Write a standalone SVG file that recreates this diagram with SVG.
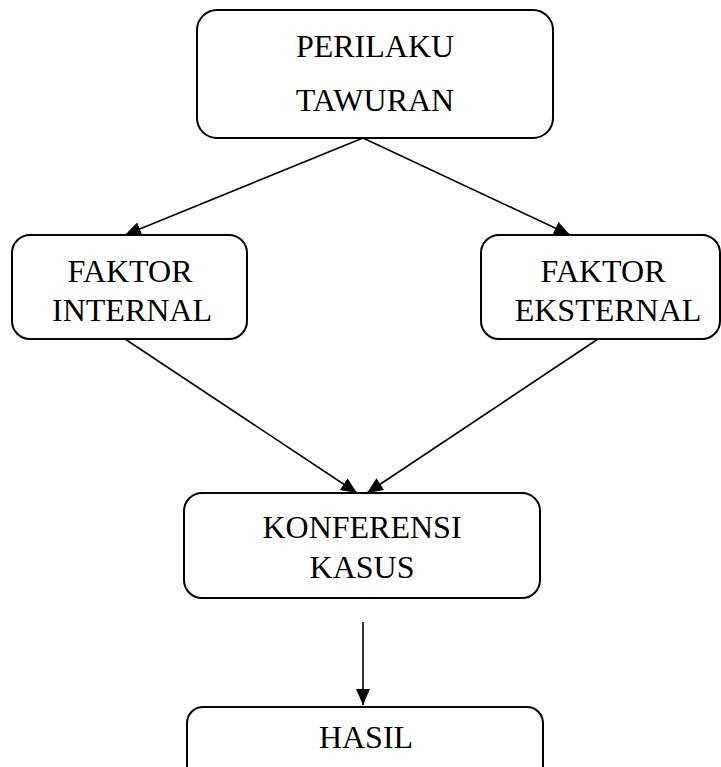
<svg xmlns="http://www.w3.org/2000/svg" width="721" height="767" viewBox="0 0 721 767">
<defs>
<style>
.box{fill:#fff;stroke:#000;stroke-width:2}
.t{font-family:"Liberation Serif","Times New Roman",serif;font-size:32px;fill:#000;text-anchor:middle}
.c{stroke:#000;stroke-width:1.6;fill:none;marker-end:url(#ah)}
</style>
<marker id="ah" viewBox="0 0 16 14" refX="16" refY="7" markerWidth="16" markerHeight="14" markerUnits="userSpaceOnUse" orient="auto">
<path d="M0,0 L16,7 L0,14 z" fill="#000"/>
</marker>
</defs>
<rect width="721" height="767" fill="#fff"/>
<g id="connectors">
<line class="c" x1="363" y1="138" x2="125" y2="235"/>
<line class="c" x1="363" y1="138" x2="570" y2="235"/>
<line class="c" x1="125" y1="339" x2="357" y2="493"/>
<line class="c" x1="598" y1="339" x2="367" y2="493"/>
<line class="c" x1="363" y1="622" x2="363" y2="705"/>
</g>
<g id="perilaku-tawuran">
<rect class="box" x="197" y="10" width="356" height="128" rx="20"/>
<text class="t" x="375" y="57">PERILAKU</text>
<text class="t" x="375" y="111">TAWURAN</text>
</g>
<g id="faktor-internal">
<rect class="box" x="12" y="235" width="235" height="104" rx="18"/>
<text class="t" x="130" y="282">FAKTOR</text>
<text class="t" x="132" y="321">INTERNAL</text>
</g>
<g id="faktor-eksternal">
<rect class="box" x="481" y="235" width="239" height="104" rx="18"/>
<text class="t" x="603" y="282">FAKTOR</text>
<text class="t" x="608" y="321">EKSTERNAL</text>
</g>
<g id="konferensi-kasus">
<rect class="box" x="184" y="493" width="356" height="105" rx="18"/>
<text class="t" x="362" y="538">KONFERENSI</text>
<text class="t" x="362" y="578">KASUS</text>
</g>
<g id="hasil">
<rect class="box" x="187" y="707" width="356" height="90" rx="16"/>
<text class="t" x="366" y="748">HASIL</text>
</g>
</svg>
